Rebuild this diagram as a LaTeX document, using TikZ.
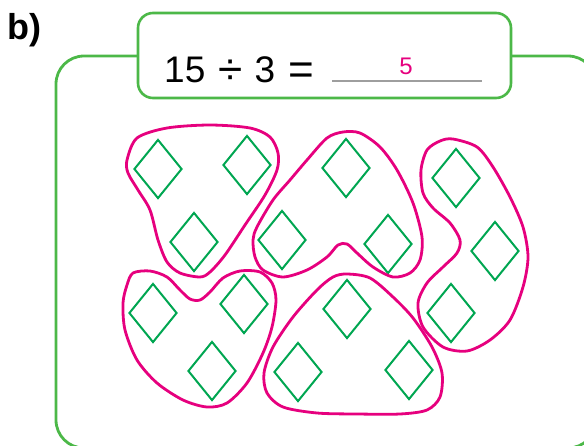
\documentclass[tikz,border=0pt]{standalone}
\usepackage{fontspec}
\setmainfont{Liberation Sans}
\usetikzlibrary{shapes.geometric}
\definecolor{framegreen}{RGB}{76,184,72}
\definecolor{gemgreen}{RGB}{0,166,81}
\definecolor{ringpink}{RGB}{230,0,126}
\newcommand{\bigsign}[1]{\raisebox{-2pt}{\fontsize{44}{46}\selectfont #1}}

\begin{document}
\begin{tikzpicture}[x=1pt,y=-1pt,
    frame/.style={draw=framegreen,line width=2.8pt,rounded corners=28pt},
    titlebox/.style={draw=framegreen,fill=white,line width=2.6pt,rounded corners=15pt},
    gem/.style={diamond,draw=gemgreen,line width=2pt,inner sep=0pt,
                minimum width=48pt,minimum height=59pt},
    ring/.style={draw=ringpink,line width=2.8pt,smooth cycle,tension=0.5}
  ]
    \useasboundingbox (0,0) rectangle (584,445);
    \draw[frame] (56,56) rectangle (596,448);
    \draw[titlebox] (138,13) rectangle (511,98);
    \node[anchor=base west,font=\bfseries\fontsize{36}{40}\selectfont,inner sep=0pt] (part) at (7,39) {b)};
    \node[anchor=base west,font=\fontsize{37}{40}\selectfont,inner sep=0pt] (sum) at (164,82)
         {15\hspace{13pt}\bigsign{÷}\hspace{12pt}3\hspace{13pt}\bigsign{=}};
    \node[anchor=base,font=\fontsize{24}{28}\selectfont,text=ringpink,inner sep=0pt] (result) at (406,74) {5};
    \draw[black!38,line width=1.3pt] (332,81) -- (482,81);
    \foreach \x/\y [count=\i] in {158/169,247/165,194/242,346/168,282/240,388/244,
                                  456/178,495/251,451/313,153/313,244/304,212/371,
                                  347/309,298/372,409/370}
      \node[gem] (g\i) at (\x,\y) {};
    \draw[ring] plot coordinates {(127,160) (137,138) (167,128) (210,125) (250,128) (270,137)
      (278,153) (277,170) (265,195) (245,225) (225,255) (210,272) (200,277) (180,273)
      (167,262) (158,240) (150,210) (138,190) (128,173)};
    \draw[ring] plot coordinates {(253,240) (257,227) (273,200) (290,180) (307,160) (327,138)
      (343,132) (360,133) (380,147) (397,170) (413,203) (422,237) (420,260) (410,273)
      (393,277) (373,267) (357,253) (347,244) (338,245) (327,257) (307,270) (283,277)
      (263,270) (255,257)};
    \draw[ring] plot coordinates {(453,139) (477,147) (493,167) (510,197) (523,227) (528,257)
      (523,287) (510,320) (490,340) (467,351) (443,347) (423,327) (418,303) (427,283)
      (443,267) (457,253) (460,240) (450,223) (433,208) (423,193) (421,170) (427,150)
      (440,141)};
    \draw[ring] plot coordinates {(133,273) (150,271) (167,277) (180,290) (190,299) (200,300)
      (210,292) (223,278) (240,271) (260,272) (272,283) (276,300) (272,327) (263,353)
      (247,383) (227,403) (207,407) (183,400) (157,383) (137,360) (125,330) (123,303)
      (127,285)};
    \draw[ring] plot coordinates {(347,274) (370,278) (393,297) (413,318) (432,347) (442,373)
      (440,397) (427,410) (400,414) (357,414) (317,413) (283,407) (267,393) (264,373)
      (273,347) (293,317) (317,290) (333,277)};
\end{tikzpicture}
\end{document}
